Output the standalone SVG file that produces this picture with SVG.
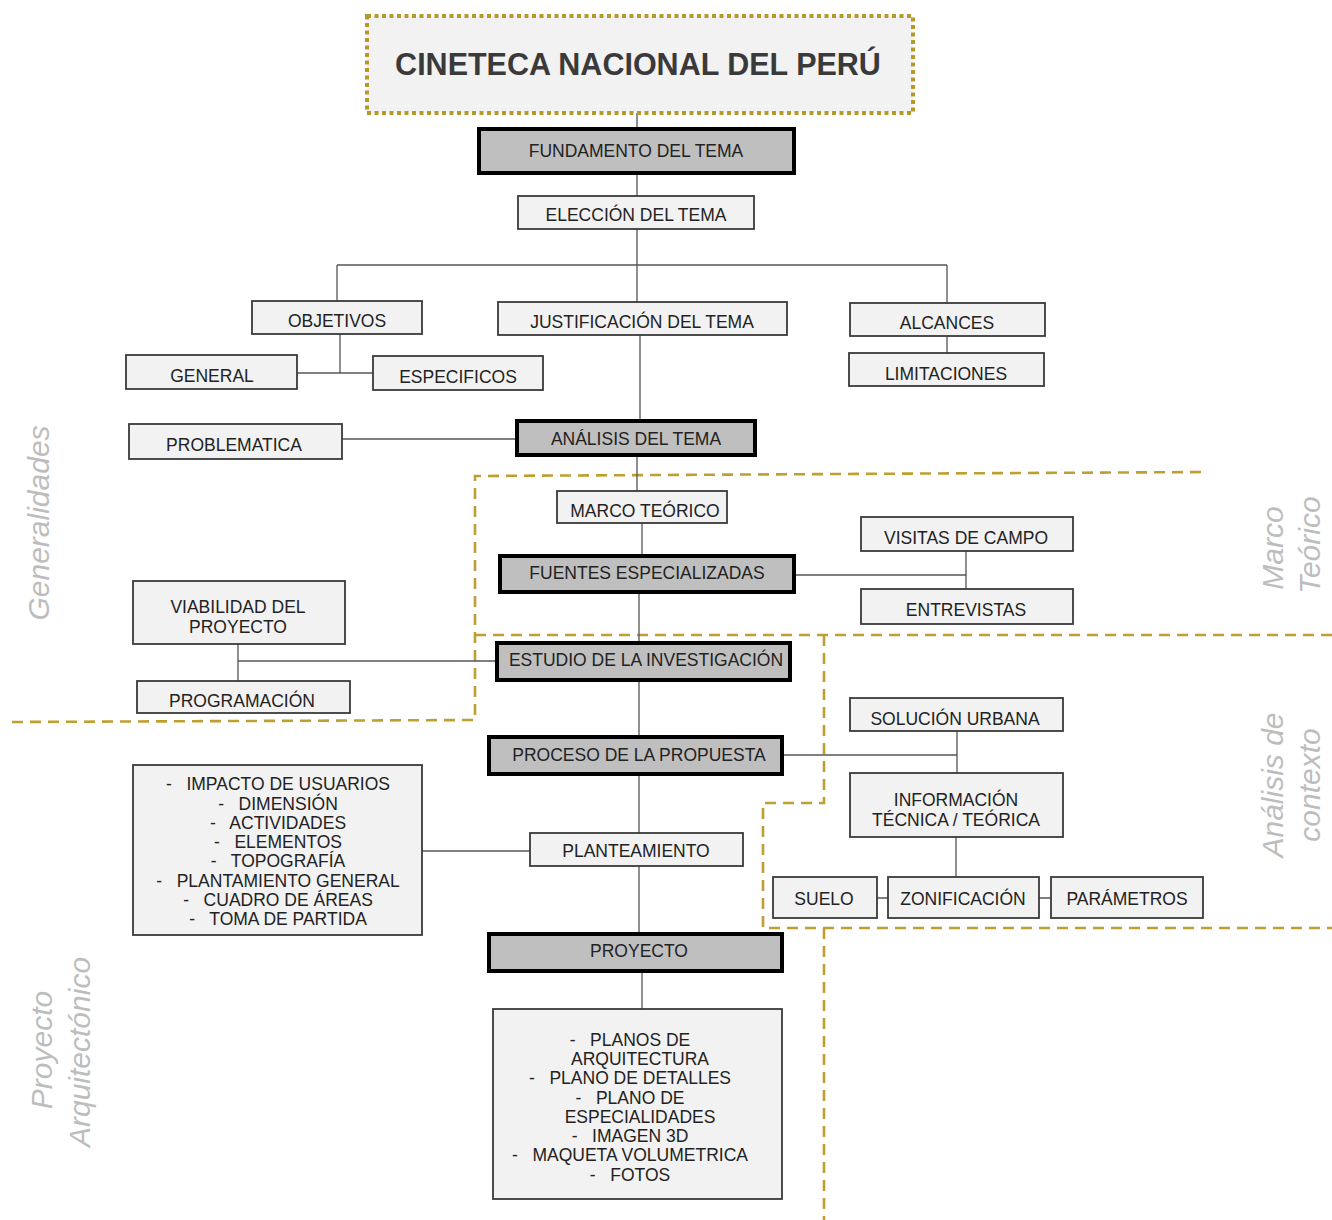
<svg xmlns="http://www.w3.org/2000/svg" width="1332" height="1220" viewBox="0 0 1332 1220">
<style>
text{font-family:"Liberation Sans",Arial,sans-serif;fill:#222;}
.t{font-size:17.5px;text-anchor:middle;}
.box{fill:#f2f2f2;stroke:#3a3a3a;stroke-width:1.8;}
.main{fill:#bfbfbf;stroke:#000;stroke-width:4;}
.c{stroke:#555;stroke-width:1.3;fill:none;}
.d{stroke:#bf9f30;stroke-width:2.6;stroke-dasharray:11 7;fill:none;}
.lbl{font-size:30px;font-style:italic;fill:#bdbdbd;text-anchor:middle;}
</style>
<rect width="1332" height="1220" fill="#fff"/>
<g id="regions">
<path class="d" d="M12 722 L475 720 L475 476 L1207 472"/>
<path class="d" d="M475 635 L1332 635"/>
<path class="d" d="M824 635 L824 803 L763 803 L763 928 L1332 928"/>
<path class="d" d="M824 928 L824 1220"/>
</g>
<g id="connectors">
<path class="c" d="M637 113 V129 M637 173 V196 M637 229 V302 M337 265 H947 M337 265 V301 M947 265 V303 M947 336 V353"/>
<path class="c" d="M340 334 V373 M297 373 H373"/>
<path class="c" d="M640 335 V421 M342 439 H517"/>
<path class="c" d="M637 455 V491 M642 523 V556 M794 575 H966 M966 551 V589"/>
<path class="c" d="M639 592 V643 M238 644 V681 M238 661 H497"/>
<path class="c" d="M639 680 V737 M782 755 H957 M957 731 V773 M956 837 V877 M877 898 H888 M1039 898 H1051"/>
<path class="c" d="M639 774 V833 M422 851 H530 M639 866 V934 M642 971 V1009"/>
</g>
<g id="title">
<rect x="367" y="16" width="546" height="97" fill="#f2f2f2" stroke="#b49a2a" stroke-width="4" stroke-dasharray="4 3.5"/>
<text x="638" y="75" style="font-size:30.5px;font-weight:bold;text-anchor:middle;fill:#3a3a3a">CINETECA NACIONAL DEL PERÚ</text>
</g>
<g id="fundamento"><rect class="main" x="479" y="129" width="315" height="44"/><text class="t" x="636" y="157">FUNDAMENTO DEL TEMA</text></g>
<g id="eleccion"><rect class="box" x="518" y="196" width="236" height="33"/><text class="t" x="636" y="221">ELECCIÓN DEL TEMA</text></g>
<g id="objetivos"><rect class="box" x="252" y="301" width="170" height="33"/><text class="t" x="337" y="327">OBJETIVOS</text></g>
<g id="justificacion"><rect class="box" x="498" y="302" width="289" height="33"/><text class="t" x="642" y="328">JUSTIFICACIÓN DEL TEMA</text></g>
<g id="alcances"><rect class="box" x="850" y="303" width="195" height="33"/><text class="t" x="947" y="329">ALCANCES</text></g>
<g id="limitaciones"><rect class="box" x="849" y="353" width="195" height="33"/><text class="t" x="946" y="380">LIMITACIONES</text></g>
<g id="general"><rect class="box" x="126" y="355" width="171" height="34"/><text class="t" x="212" y="382">GENERAL</text></g>
<g id="especificos"><rect class="box" x="373" y="356" width="170" height="34"/><text class="t" x="458" y="383">ESPECIFICOS</text></g>
<g id="problematica"><rect class="box" x="129" y="424" width="213" height="35"/><text class="t" x="234" y="451">PROBLEMATICA</text></g>
<g id="analisis"><rect class="main" x="517" y="421" width="238" height="34"/><text class="t" x="636" y="445">ANÁLISIS DEL TEMA</text></g>
<g id="marco"><rect class="box" x="557" y="491" width="170" height="32"/><text class="t" x="645" y="517">MARCO TEÓRICO</text></g>
<g id="visitas"><rect class="box" x="861" y="517" width="212" height="34"/><text class="t" x="966" y="544">VISITAS DE CAMPO</text></g>
<g id="fuentes"><rect class="main" x="500" y="556" width="294" height="36"/><text class="t" x="647" y="579">FUENTES ESPECIALIZADAS</text></g>
<g id="entrevistas"><rect class="box" x="861" y="589" width="212" height="35"/><text class="t" x="966" y="616">ENTREVISTAS</text></g>
<g id="viabilidad"><rect class="box" x="133" y="581" width="212" height="63"/><text class="t" x="238" y="613">VIABILIDAD DEL</text><text class="t" x="238" y="633">PROYECTO</text></g>
<g id="estudio"><rect class="main" x="497" y="643" width="293" height="37"/><text class="t" x="646" y="666">ESTUDIO DE LA INVESTIGACIÓN</text></g>
<g id="programacion"><rect class="box" x="137" y="681" width="213" height="32"/><text class="t" x="242" y="707">PROGRAMACIÓN</text></g>
<g id="solucion"><rect class="box" x="850" y="698" width="213" height="33"/><text class="t" x="955" y="725">SOLUCIÓN URBANA</text></g>
<g id="proceso"><rect class="main" x="489" y="737" width="293" height="37"/><text class="t" x="639" y="761">PROCESO DE LA PROPUESTA</text></g>
<g id="informacion"><rect class="box" x="850" y="773" width="213" height="64"/><text class="t" x="956" y="806">INFORMACIÓN</text><text class="t" x="956" y="826">TÉCNICA / TEÓRICA</text></g>
<g id="suelo"><rect class="box" x="773" y="877" width="104" height="41"/><text class="t" x="824" y="905">SUELO</text></g>
<g id="zonificacion"><rect class="box" x="888" y="877" width="151" height="41"/><text class="t" x="963" y="905">ZONIFICACIÓN</text></g>
<g id="parametros"><rect class="box" x="1051" y="877" width="152" height="41"/><text class="t" x="1127" y="905">PARÁMETROS</text></g>
<g id="planteamiento"><rect class="box" x="530" y="833" width="213" height="33"/><text class="t" x="636" y="857">PLANTEAMIENTO</text></g>
<g id="lista-planteamiento"><rect class="box" x="133" y="765" width="289" height="170"/>
<text class="t" xml:space="preserve" x="278" y="790">-   IMPACTO DE USUARIOS</text>
<text class="t" xml:space="preserve" x="278" y="810">-   DIMENSIÓN</text>
<text class="t" xml:space="preserve" x="278" y="829">-   ACTIVIDADES</text>
<text class="t" xml:space="preserve" x="278" y="848">-   ELEMENTOS</text>
<text class="t" xml:space="preserve" x="278" y="867">-   TOPOGRAFÍA</text>
<text class="t" xml:space="preserve" x="278" y="887">-   PLANTAMIENTO GENERAL</text>
<text class="t" xml:space="preserve" x="278" y="906">-   CUADRO DE ÁREAS</text>
<text class="t" xml:space="preserve" x="278" y="925">-   TOMA DE PARTIDA</text>
</g>
<g id="proyecto"><rect class="main" x="489" y="934" width="293" height="37"/><text class="t" x="639" y="957">PROYECTO</text></g>
<g id="lista-proyecto"><rect class="box" x="493" y="1009" width="289" height="190"/>
<text class="t" xml:space="preserve" x="630" y="1046">-   PLANOS DE</text>
<text class="t" x="640" y="1065">ARQUITECTURA</text>
<text class="t" xml:space="preserve" x="630" y="1084">-   PLANO DE DETALLES</text>
<text class="t" xml:space="preserve" x="630" y="1104">-   PLANO DE</text>
<text class="t" x="640" y="1123">ESPECIALIDADES</text>
<text class="t" xml:space="preserve" x="630" y="1142">-   IMAGEN 3D</text>
<text class="t" xml:space="preserve" x="630" y="1161">-   MAQUETA VOLUMETRICA</text>
<text class="t" xml:space="preserve" x="630" y="1181">-   FOTOS</text>
</g>
<g id="labels">
<text class="lbl" transform="translate(49 523) rotate(-90)">Generalidades</text>
<text class="lbl" transform="translate(52 1050) rotate(-90)">Proyecto</text>
<text class="lbl" transform="translate(90 1052) rotate(-90)">Arquitectónico</text>
<text class="lbl" transform="translate(1283 548) rotate(-90)">Marco</text>
<text class="lbl" transform="translate(1320 545) rotate(-90)">Teórico</text>
<text class="lbl" transform="translate(1283 785) rotate(-90)">Análisis de</text>
<text class="lbl" transform="translate(1320 785) rotate(-90)">contexto</text>
</g>
</svg>
